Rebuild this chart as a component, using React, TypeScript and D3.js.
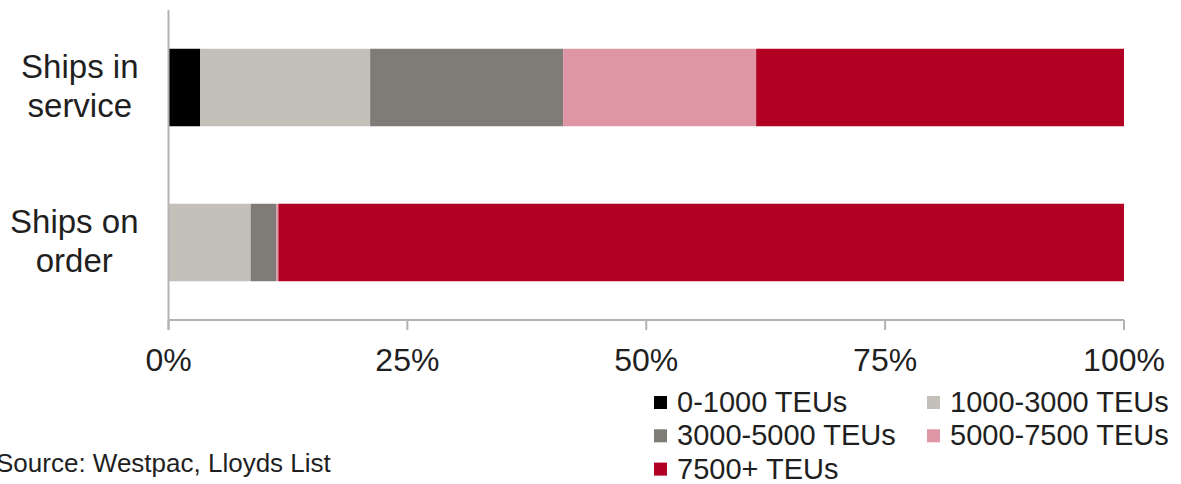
import React from "react";
import * as d3 from "d3";

const categories = ["Ships in service", "Ships on order"];
const categoryLines = [["Ships in", "service"], ["Ships on", "order"]];
const seriesNames = ["0-1000 TEUs", "1000-3000 TEUs", "3000-5000 TEUs", "5000-7500 TEUs", "7500+ TEUs"];
const seriesColors = ["#000000", "#c3c0b9", "#7f7b76", "#df96a4", "#b10021"];
const inService = [3.3, 17.8, 20.2, 20.2, 38.5];
const onOrder = [0, 8.6, 2.7, 0.2, 88.5];
const xTicks = [0, 25, 50, 75, 100];
const sourceText = "Source: Westpac, Lloyds List";

const W = 1181, H = 484;
const FONT = "'Liberation Sans', Arial, sans-serif";

let ctx: CanvasRenderingContext2D | null = null;
function measure(text: string, size: number) {
  if (!ctx) ctx = document.createElement("canvas").getContext("2d");
  if (!ctx) return text.length * size * 0.5;
  ctx.font = `${size}px 'Liberation Sans', Arial, sans-serif`;
  return ctx.measureText(text).width;
}

export default function App() {
  const x = d3.scaleLinear().domain([0, 100]).range([168.5, 1124]);
  const y = d3.scaleBand().domain(categories).range([10, 320]).paddingInner(0.5).paddingOuter(0.25);
  const rows = [inService, onOrder].map((vals, i) => {
    const table: any = { cat: categories[i] };
    seriesNames.forEach((s, j) => (table[s] = vals[j]));
    return table;
  });
  const stacked = d3.stack<any>().keys(seriesNames)(rows);
  const axisColor = "#b3b3b3";
  const textColor = "#1f1f1f";
  const catSize = 33;
  const labelRight = 138.5;
  return (
    <svg width={W} height={H} style={{ position: "absolute", left: 0, top: 0, background: "#fff" }} fontFamily={FONT}>
      {stacked.map((layer, li) =>
        layer.map((d, di) => (
          <rect key={li + "-" + di} x={x(d[0])} y={y(categories[di])!} width={Math.max(0, x(d[1]) - x(d[0]))} height={y.bandwidth()} fill={seriesColors[li]} />
        ))
      )}
      <line x1={168.5} x2={168.5} y1={10} y2={330} stroke={axisColor} strokeWidth={2} />
      <line x1={168.5} x2={1124} y1={320} y2={320} stroke={axisColor} strokeWidth={2} />
      {xTicks.map((t) => (
        <g key={t}>
          <line x1={x(t)} x2={x(t)} y1={320} y2={330} stroke={axisColor} strokeWidth={2} />
          <text x={x(t)} y={371} textAnchor="middle" fontSize={32} fill={textColor}>{t + "%"}</text>
        </g>
      ))}
      {categories.map((c, i) => {
        const cy = y(c)! + y.bandwidth() / 2;
        const lines = categoryLines[i];
        const maxW = Math.max(...lines.map((l) => measure(l, catSize)));
        const cx = labelRight - maxW / 2;
        return (
          <text key={c} textAnchor="middle" fontSize={catSize} fill={textColor}>
            {lines.map((ln, k) => (
              <tspan key={k} x={cx} y={cy + 9.5 - 19 + k * 38.5}>{ln}</tspan>
            ))}
          </text>
        );
      })}
      {seriesNames.map((s, i) => {
        const col = i % 2, row = Math.floor(i / 2);
        const lx = col === 0 ? 654 : 927;
        const by = 412 + row * 33.3;
        return (
          <g key={s}>
            <rect x={lx} y={by - 16} width={13} height={13} fill={seriesColors[i]} />
            <text x={lx + 23} y={by} fontSize={29} fill={textColor}>{s}</text>
          </g>
        );
      })}
      <text x={-4} y={472} fontSize={26} fill={textColor}>{sourceText}</text>
    </svg>
  );
}
